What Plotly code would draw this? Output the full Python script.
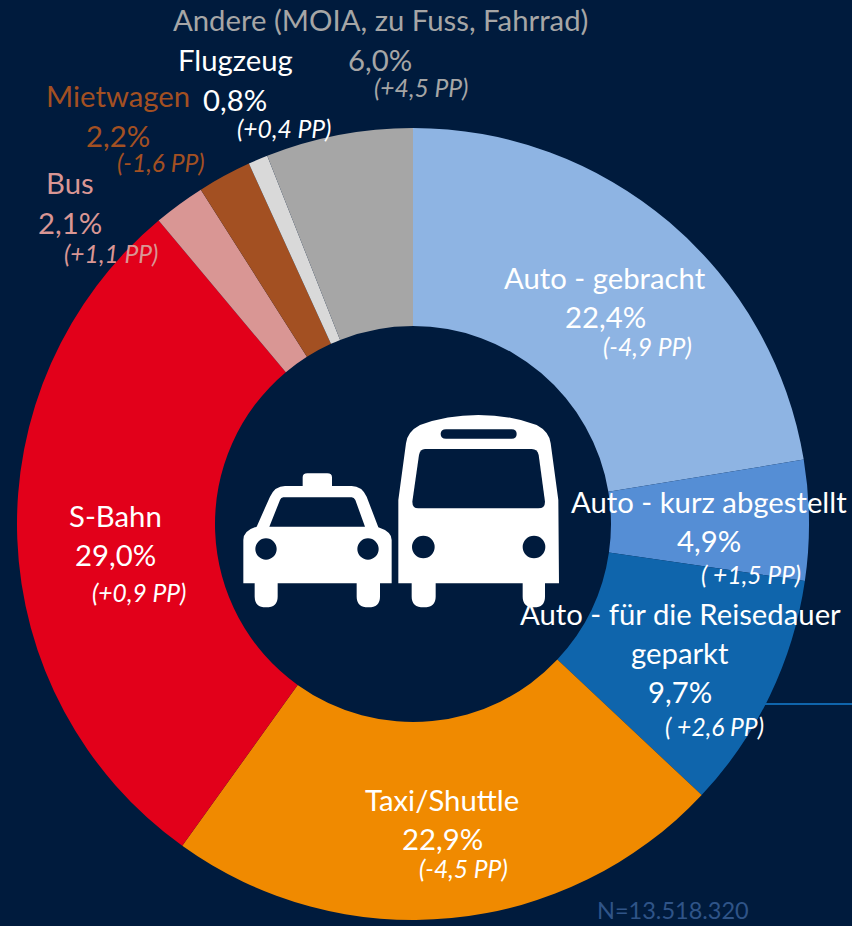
import plotly.graph_objects as go

W, H = 852, 926
BG = "#001B3D"

categories = ["Auto - gebracht", "Auto - kurz abgestellt", "Auto - für die Reisedauer geparkt",
              "Taxi/Shuttle", "S-Bahn", "Bus", "Mietwagen", "Flugzeug",
              "Andere (MOIA, zu Fuss, Fahrrad)"]
shares = [22.4, 4.9, 9.7, 22.9, 29.0, 2.1, 2.2, 0.8, 6.0]
changes = ["(-4,9 PP)", "( +1,5 PP)", "( +2,6 PP)", "(-4,5 PP)", "(+0,9 PP)",
           "(+1,1 PP)", "(-1,6 PP)", "(+0,4 PP)", "(+4,5 PP)"]
colors = ["#8EB4E3", "#558ED5", "#0F65AC", "#F08A00", "#E2001A",
          "#D99694", "#A35022", "#D9D9D9", "#A6A6A6"]
label_colors = ["#FFFFFF", "#FFFFFF", "#FFFFFF", "#FFFFFF", "#FFFFFF",
                "#D99694", "#A35022", "#FFFFFF", "#A6A6A6"]
name_lines = [["Auto - gebracht"], ["Auto - kurz abgestellt"],
              ["Auto - für die Reisedauer", "geparkt"], ["Taxi/Shuttle"], ["S-Bahn"],
              ["Bus"], ["Mietwagen"], ["Flugzeug"], ["Andere (MOIA, zu Fuss, Fahrrad)"]]
sample_note = "N=13.518.320"

# pixel anchors for each label block: x of name/share, y of each line, then x,y of the change text
label_pos = [
    (605, [277.5], 316.5, 647, 346),
    (709, [501.5], 540.5, 751, 574),
    (680, [613.5, 652.5], 691.5, 714, 726),
    (442, [799.5], 838.5, 463, 868),
    (115, [515.5], 554.5, 139, 592),
    (70, [182.5], 222.5, 111, 254),
    (118, [95.5], 135.5, 161, 163),
    (235, [59.5], 99.5, 284, 128),
    (380, [19.5], 59.5, 421, 87),
]

FONT = "Lato, Carlito, Calibri, sans-serif"
MAIN = 29.3
ITAL = 24.6


def px(x):
    return x / W


def py(y):
    return 1 - y / H


def ann(text, x, y, color, size=MAIN, italic=False):
    t = f"<i>{text}</i>" if italic else text
    return dict(text=t, x=px(x), y=py(y), xref="paper", yref="paper", showarrow=False,
                xanchor="center", yanchor="middle",
                font=dict(family=FONT, size=size, color=color))


annotations = []
for i, (x, ys, y_share, x_ch, y_ch) in enumerate(label_pos):
    c = label_colors[i]
    for line, y in zip(name_lines[i], ys):
        annotations.append(ann(line, x, y, c))
    annotations.append(ann(f"{shares[i]:.1f}%".replace(".", ","), x, y_share, c))
    annotations.append(ann(changes[i], x_ch, y_ch, c, size=ITAL, italic=True))
annotations.append(ann(sample_note, 673, 910, "#2F5488", size=23.5))


# ---- icon drawn in zoom-crop units (3x, origin 230,400) ----
def Z(x, y):
    return f"{px(230 + x / 3):.5f},{py(400 + y / 3):.5f}"


def path(cmds):
    out = []
    for cmd in cmds:
        if cmd == "Z":
            out.append("Z")
        else:
            letter, pts = cmd
            out.append(letter + " ".join(Z(*p) for p in pts))
    return " ".join(out)


def poly(start, *segs):
    cmds = [("M", [start])]
    for s in segs:
        if len(s) == 2:
            cmds.append(("L", [s]))
        else:
            cmds.append(("Q", [(s[0], s[1]), (s[2], s[3])]))
    cmds.append("Z")
    return path(cmds)


taxi = poly((40, 550), (40, 420), (40, 392, 80, 380), (120, 290), (135, 258, 165, 258), (218, 258),
            (218, 232), (218, 220, 232, 220), (292, 220), (306, 220, 306, 232), (306, 258), (365, 258),
            (395, 258, 410, 290), (445, 382), (485, 395, 485, 420), (485, 550), (450, 550), (450, 590),
            (450, 622, 415, 622), (380, 622, 380, 590), (380, 550), (143, 550), (143, 590),
            (143, 622, 108, 622), (74, 622, 74, 590), (74, 550))
taxi_win = poly((118, 380), (150, 300), (153, 292, 160, 292), (365, 292), (372, 292, 376, 300), (405, 380))
bus = poly((505, 550), (505, 300), (528, 130), (532, 95, 570, 75), (650, 45, 745, 45), (840, 45, 920, 75),
           (958, 95, 962, 130), (985, 300), (987, 550), (945, 550), (945, 590), (945, 622, 912, 622),
           (878, 622, 878, 590), (878, 550), (617, 550), (617, 590), (617, 622, 581, 622),
           (545, 622, 545, 590), (545, 550))
bus_win = poly((585, 147), (905, 147), (923, 147, 926, 165), (945, 305), (945, 325, 925, 325), (565, 325),
               (547, 325, 547, 305), (567, 165), (570, 147, 585, 147))
bus_slot = poly((648, 88), (845, 88), (860, 88, 860, 102), (860, 116, 845, 116), (648, 116),
                (632, 116, 632, 102), (632, 88, 648, 88))


def solid(p, color):
    return dict(type="path", path=p, xref="paper", yref="paper", fillcolor=color,
                line=dict(width=0), layer="above")


def wheel(cx, cy, r):
    return dict(type="circle", xref="paper", yref="paper",
                x0=px(230 + (cx - r) / 3), x1=px(230 + (cx + r) / 3),
                y0=py(400 + (cy + r) / 3), y1=py(400 + (cy - r) / 3),
                fillcolor=BG, line=dict(width=0), layer="above")


shapes = [solid(taxi, "#FFFFFF"), solid(bus, "#FFFFFF"), solid(taxi_win, BG), solid(bus_win, BG),
          solid(bus_slot, BG), wheel(108, 447, 32), wheel(414, 447, 32), wheel(580, 441, 34),
          wheel(912, 441, 34),
          dict(type="line", xref="paper", yref="paper", x0=px(765), x1=px(852), y0=py(704), y1=py(704),
               line=dict(color="#0F65AC", width=2))]

fig = go.Figure(go.Pie(
    labels=categories, values=shares, hole=0.5, sort=False, direction="clockwise", rotation=0,
    textinfo="none", showlegend=False,
    marker=dict(colors=colors, line=dict(width=0)),
    domain=dict(x=[17 / W, 809 / W], y=[1 - 920 / H, 1 - 128 / H]),
))
fig.update_layout(width=W, height=H, margin=dict(l=0, r=0, t=0, b=0), autosize=False,
                  paper_bgcolor=BG, plot_bgcolor=BG, annotations=annotations, shapes=shapes)
fig.write_html("out.html", config=dict(displayModeBar=False),
               post_script="document.body.style.margin='0';document.body.style.background='%s';" % BG)
